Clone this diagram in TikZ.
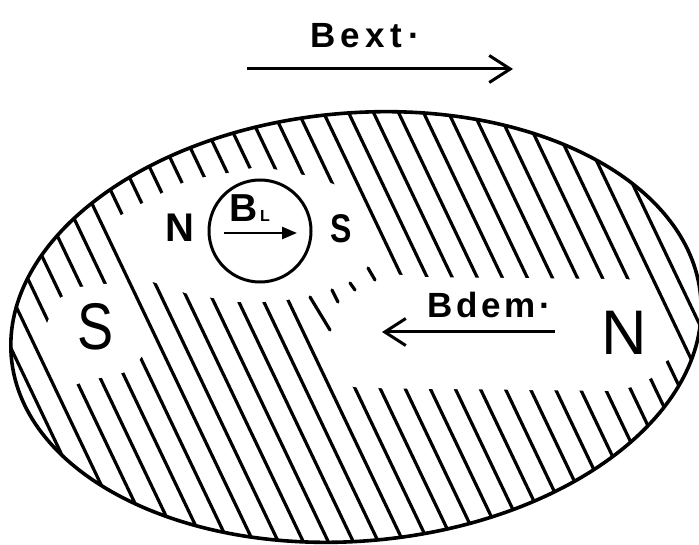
\documentclass[tikz,border=0pt]{standalone}
\usepackage{fontspec}
\usepackage{graphicx}
\setmainfont{Liberation Sans}
\usetikzlibrary{arrows.meta}
\begin{document}
\begin{tikzpicture}[x=1pt,y=-1pt,
  hatch/.style={line width=3.2pt, line cap=round},
  outline/.style={line width=3.6pt},
  lbl/.style={inner sep=0pt, outer sep=0pt, anchor=base west},
  voidfill/.style={fill=white},
  fieldarrow/.style={line width=3pt, -{Straight Barb[length=21pt,width=27pt]}}]
\useasboundingbox (0,0) rectangle (699,545);
% hatching inside the ellipse
\begin{scope}
\clip[rotate around={5:(356,327)}] (356,327) ellipse [x radius=346, y radius=214];
\foreach \c in {-280,-255,...,720} \draw[hatch] (\c+38,80) -- (\c+267,560);
\end{scope}
% unhatched region: upper left, round the small circle and the band
\fill[voidfill] (106,224) -- (135,207) -- (155,197) -- (173,187) -- (192,179) -- (213,176)
  -- (233,172) -- (257,167) -- (280,170) -- (313,177) -- (345,188) -- (352,188)
  -- (392,274) -- (420,277) -- (625,279) -- (646,281) -- (681,352) -- (665,362)
  -- (653,377) -- (637,386) -- (613,391) -- (360,388) -- (338,384) -- (300,297)
  -- (287,300) -- (262,302) -- (238,302) -- (213,298) -- (188,294) -- (153,282)
  -- (133,280) -- cycle;
% unhatched region round S
\fill[voidfill] (50,316) -- (60,298) -- (80,287) -- (103,284) -- (126,283) -- (157,348)
  -- (145,352) -- (132,370) -- (112,376) -- (88,380) -- (62,390) -- (40,340) -- cycle;
% broken hatch strokes
\draw[hatch] (368,268) -- (375,280);
\draw[hatch] (350,283) -- (355,290);
\draw[hatch] (332,290) -- (338,302);
\draw[hatch] (310,297) -- (330,330);
% outline
\draw[outline, rotate around={5:(356,327)}] (356,327) ellipse [x radius=346, y radius=214];
% small magnet
\node[circle, draw, line width=3pt, minimum size=102pt, inner sep=0pt, fill=white] (small) at (260,231) {};
\coordinate (blstart) at (224,233);
\coordinate (blend) at (297,233);
\draw[line width=2.6pt, -{Triangle[length=15pt,width=12pt]}] (blstart) -- (blend);
\node[lbl, font=\fontsize{39}{39}\selectfont\bfseries] (bl) at (229,222) {B\kern3pt{\fontsize{16}{16}\selectfont L}};
\node[lbl, font=\fontsize{40}{40}\selectfont\bfseries] (nsmall) at (165,242) {N};
\node[lbl, font=\fontsize{40}{40}\selectfont\bfseries] (ssmall) at (330,243) {\scalebox{0.8}[1]{S}};
% big poles
\node[lbl, font=\fontsize{66}{66}\selectfont] (sbig) at (77,350) {\scalebox{0.82}[1]{S}};
\node[lbl, font=\fontsize{63}{63}\selectfont] (nbig) at (601,355) {N};
% external field
\node[lbl, font=\fontsize{35}{35}\selectfont\bfseries\addfontfeature{LetterSpace=16}] (bext) at (310,48) {Bext·};
\coordinate (bexts) at (247,69);
\coordinate (bexte) at (513,69);
\draw[fieldarrow] (bexts) -- (bexte);
% demagnetising field
\node[lbl, font=\fontsize{35}{35}\selectfont\bfseries\addfontfeature{LetterSpace=11}] (bdem) at (427,318) {Bdem·};
\coordinate (bdems) at (555,332);
\coordinate (bdeme) at (382,332);
\draw[fieldarrow] (bdems) -- (bdeme);
\end{tikzpicture}
\end{document}
